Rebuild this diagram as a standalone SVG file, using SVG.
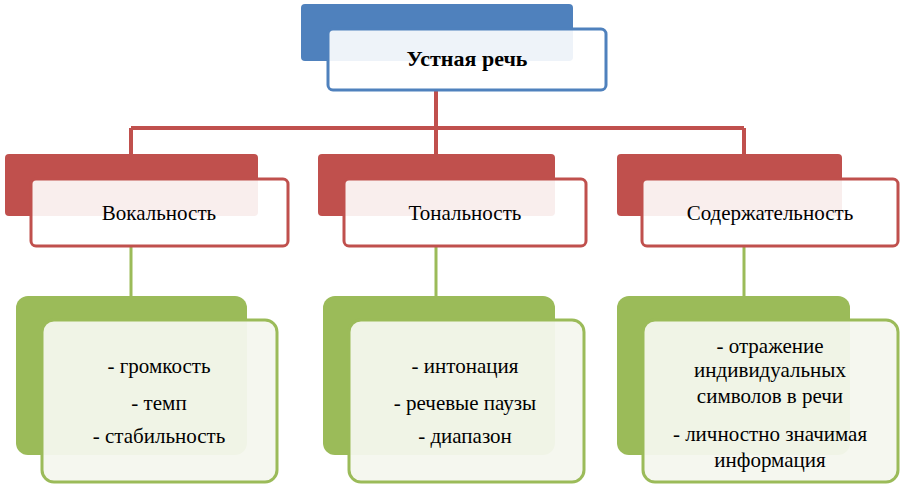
<svg xmlns="http://www.w3.org/2000/svg" width="905" height="486" viewBox="0 0 905 486">
<style>
text{font-family:"Liberation Serif","Times New Roman",serif;font-size:21px;fill:#000;text-anchor:middle}
.bb{fill:#4f81bd}.bf{fill:#fff;fill-opacity:.9;stroke:#4f81bd;stroke-width:3}
.rb{fill:#c0504d}.rf{fill:#fff;fill-opacity:.9;stroke:#c0504d;stroke-width:3}
.gb{fill:#9bbb59}.gf{fill:#f4f7ee;fill-opacity:.95;stroke:#9bbb59;stroke-width:3}
.cr{stroke:#c0504d;stroke-width:4;fill:none}.cg{stroke:#9bbb59;stroke-width:3;fill:none}
</style>
<g id="connectors">
<path class="cr" d="M436 90V128M131 128H744M131 128V154M436 128V154M744 128V154"/>
<path class="cg" d="M131 246V296M436 246V296M744 246V296"/>
</g>
<g id="root"><rect class="bb" x="301" y="4" width="272" height="57" rx="4"/><rect class="bf" x="328" y="29" width="278" height="61" rx="5"/><text x="467" y="66" style="font-weight:bold;font-size:22px">Устная речь</text></g>
<g id="vocal"><rect class="rb" x="5" y="154" width="253" height="62" rx="4"/><rect class="rf" x="31" y="179" width="257" height="67" rx="5"/><text x="159" y="220">Вокальность</text></g>
<g id="tonal"><rect class="rb" x="318" y="154" width="237" height="62" rx="4"/><rect class="rf" x="344" y="179" width="242" height="67" rx="5"/><text x="465" y="220">Тональность</text></g>
<g id="content"><rect class="rb" x="617" y="154" width="225" height="62" rx="4"/><rect class="rf" x="642" y="179" width="256" height="67" rx="5"/><text x="770" y="220">Содержательность</text></g>
<g id="vocal-list"><rect class="gb" x="16" y="296" width="231" height="159" rx="12"/><rect class="gf" x="42" y="320" width="235" height="162" rx="12"/><text x="159" y="373">- громкость</text><text x="159" y="410">- темп</text><text x="159" y="443">- стабильность</text></g>
<g id="tonal-list"><rect class="gb" x="323" y="296" width="232" height="159" rx="12"/><rect class="gf" x="349" y="320" width="235" height="162" rx="12"/><text x="465" y="373">- интонация</text><text x="465" y="410">- речевые паузы</text><text x="465" y="443">- диапазон</text></g>
<g id="content-list"><rect class="gb" x="617" y="296" width="233" height="159" rx="12"/><rect class="gf" x="643" y="320" width="255" height="162" rx="12"/><text x="770" y="353">- отражение</text><text x="770" y="377">индивидуальных</text><text x="770" y="403">символов в речи</text><text x="770" y="441">- личностно значимая</text><text x="770" y="467">информация</text></g>
</svg>
